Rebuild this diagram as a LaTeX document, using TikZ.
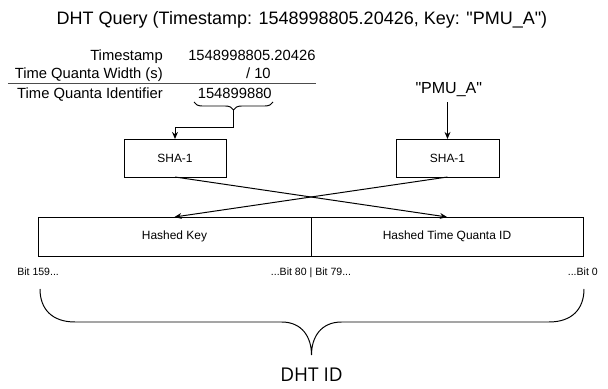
\documentclass[tikz,border=0pt]{standalone}
\usepackage{fontspec}
\setmainfont{Liberation Sans}[Ligatures=TeXOff]
\newfontfamily\idfont{Open Sans}
\usepackage{tikz}
\usetikzlibrary{arrows.meta,positioning,calc,decorations.pathreplacing}

\begin{document}
\begin{tikzpicture}[
  >={Stealth[length=5pt,width=4.2pt]},
  every node/.style={font=\fontsize{8.5pt}{10pt}\selectfont},
  ttl/.style={font=\fontsize{12.8pt}{15pt}\selectfont},
  tbl/.style={font=\fontsize{10.5pt}{12pt}\selectfont, inner sep=0pt},
  box/.style={draw, line width=0.7pt, minimum height=0.95cm, inner sep=0pt, outer sep=0pt},
  bit/.style={font=\fontsize{7.5pt}{9pt}\selectfont, inner sep=0pt},
  arr/.style={->, line width=0.7pt},
  brc/.style={decorate, decoration={brace, mirror, amplitude=0.2cm}, line width=0.7pt}
]
\useasboundingbox (0,0) rectangle (15.2,9.725);

%--------------------------------------------------
% title
%--------------------------------------------------
\node[ttl] (title) at (7.55,9.225) {DHT Query (Timestamp: 1548998805.20426, Key: "PMU\_A")};

%--------------------------------------------------
% top left: time quanta table
%--------------------------------------------------
\node[tbl, anchor=base east] (tsl) at (4.075,8.2175) {Timestamp};
\node[tbl, anchor=base west] (tsv) at (4.7,8.2175) {1548998805.20426};
\node[tbl, anchor=base east] (qwl) at (4.075,7.7675) {Time Quanta Width (s)};
\node[tbl, anchor=base east] (qwv) at (6.775,7.7675) {/ 10};
\draw[line width=0.7pt, black!70] (0.2,7.65) -- (7.9,7.65);
\node[tbl, anchor=base east] (qil) at (4.075,7.2675) {Time Quanta Identifier};
\node[tbl, anchor=base east] (qiv) at (6.8,7.2675) {154899880};

% brace under the identifier
\draw[brc] (4.85,7.175) -- (6.825,7.175);
\coordinate (qtip) at (5.8375,6.975);

%--------------------------------------------------
% hash boxes
%--------------------------------------------------
\node[box, minimum width=2.55cm] (shaL) at (4.375,5.775) {SHA-1};
\node[box, minimum width=2.575cm] (shaR) at (11.1875,5.775) {SHA-1};

\node[font=\fontsize{11.4pt}{13pt}\selectfont] (pmu) at (11.22,7.475) {"PMU\_A"};

\draw[arr] (qtip) -- ++(0,-0.425) -| (shaL.north);
\draw[arr] (shaR.north |- pmu.south) -- (shaR.north);

%--------------------------------------------------
% DHT id: two halves
%--------------------------------------------------
\node[box, minimum width=6.825cm, minimum height=0.975cm] (hk) at (4.3625,3.8125) {Hashed Key};
\node[box, minimum width=6.8cm, minimum height=0.975cm, right=0pt of hk] (ht) {Hashed Time Quanta ID};

\draw[arr] (shaL.south) -- (ht.north);
\draw[arr] (shaR.south) -- (hk.north);

% bit positions
\node[bit, anchor=base west] (b159) at (0.425,2.825) {Bit 159...};
\node[bit, anchor=base] (b80) at (7.775,2.825) {...Bit 80 | Bit 79...};
\node[bit, anchor=base east] (b0) at (14.95,2.825) {...Bit 0};

% big brace
\draw[line width=0.7pt] (1.0,2.5) .. controls (1.0,2.0) and (1.3,1.675) .. (1.875,1.675)
  -- (7.04,1.675) .. controls (7.55,1.675) and (7.7875,1.3) .. (7.7875,0.85)
  .. controls (7.7875,1.3) and (8.025,1.675) .. (8.54,1.675)
  -- (13.725,1.675) .. controls (14.3,1.675) and (14.6,2.0) .. (14.6,2.5);

\node[font=\idfont\fontsize{13.5pt}{16pt}\selectfont] (dht) at (7.79,0.35) {DHT ID};

\end{tikzpicture}
\end{document}
